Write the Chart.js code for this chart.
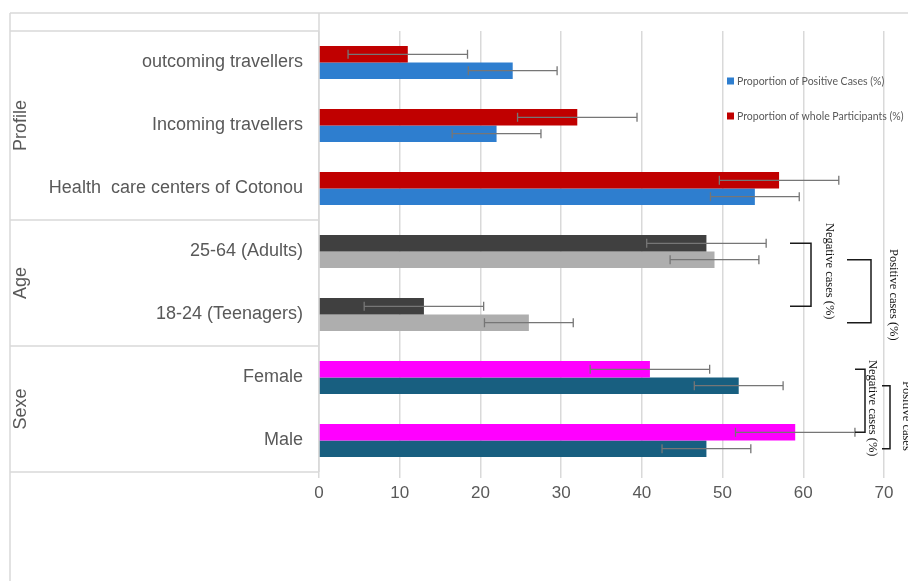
<!DOCTYPE html>
<html>
<head>
<meta charset="utf-8">
<script src="https://cdn.jsdelivr.net/npm/chart.js@4"></script>
<style>
  html, body { margin: 0; padding: 0; background: #fff; }
</style>
</head>
<body>
<canvas id="chart" width="908" height="581"></canvas>
<script>
// --- DONNÉES ---
const categories = ['outcoming travellers', 'Incoming travellers', 'Health  care centers of Cotonou',
  '25-64 (Adults)', '18-24 (Teenagers)', 'Female', 'Male'];
const groupNames = ['Profile', 'Age', 'Sexe'];
const groupSizes = [3, 2, 2];
const participants = [11, 32, 57, 48, 13, 41, 59];      // barre du haut
const participantsErr = [7.4, 7.4, 7.4, 7.4, 7.4, 7.4, 7.4];
const positives = [24, 22, 54, 49, 26, 52, 48];         // barre du bas
const positivesErr = [5.5, 5.5, 5.5, 5.5, 5.5, 5.5, 5.5];
const xTicks = [0, 10, 20, 30, 40, 50, 60, 70];

// --- STYLE ---
const topColors = { Profile: '#C00000', Age: '#404040', Sexe: '#FF00FF' };
const bottomColors = { Profile: '#2E7ECF', Age: '#AEAEAE', Sexe: '#185F80' };
const lineColor = '#D9D9D9';
const textColor = '#595959';
const sans = '"Liberation Sans", Arial, sans-serif';
const serif = '"Liberation Serif", "Times New Roman", serif';

// groupe de chaque catégorie
const groupOf = [];
groupNames.forEach((g, gi) => { for (let k = 0; k < groupSizes[gi]; k++) groupOf.push(g); });

// Tableau à gauche + cadre
const tablePlugin = {
  id: 'tablePlugin',
  beforeDraw(chart) {
    const { ctx, chartArea: area, scales: { y } } = chart;
    const left = 10, top = 13;
    ctx.save();
    ctx.strokeStyle = lineColor;
    ctx.lineWidth = 1.5;
    const line = (x0, y0, x1, y1) => { ctx.beginPath(); ctx.moveTo(x0, y0); ctx.lineTo(x1, y1); ctx.stroke(); };
    line(left, top, chart.width, top);
    line(left, top, left, chart.height);
    line(area.left, top, area.left, area.bottom);
    line(left, area.top, area.left, area.top);

    let start = 0;
    let yStart = area.top;
    groupNames.forEach((g, gi) => {
      const end = start + groupSizes[gi] - 1;
      const yEnd = end === categories.length - 1 ? area.bottom
        : (y.getPixelForValue(end) + y.getPixelForValue(end + 1)) / 2;
      line(left, yEnd, area.left, yEnd);
      // libellé du groupe
      ctx.save();
      ctx.translate(21, (yStart + yEnd) / 2);
      ctx.rotate(-Math.PI / 2);
      ctx.fillStyle = textColor;
      ctx.font = '18px ' + sans;
      ctx.textAlign = 'center';
      ctx.textBaseline = 'middle';
      ctx.fillText(g, 0, 0);
      ctx.restore();
      start = end + 1;
      yStart = yEnd;
    });
    ctx.restore();
  }
};

// Barres d'erreur
const errorBars = {
  id: 'errorBars',
  afterDatasetsDraw(chart) {
    const { ctx, scales: { x } } = chart;
    ctx.save();
    ctx.strokeStyle = '#767676';
    ctx.lineWidth = 1.3;
    [participantsErr, positivesErr].forEach((errs, di) => {
      const values = chart.data.datasets[di].data;
      chart.getDatasetMeta(di).data.forEach((bar, i) => {
        const x0 = x.getPixelForValue(values[i] - errs[i]);
        const x1 = x.getPixelForValue(values[i] + errs[i]);
        const yc = bar.y;
        ctx.beginPath();
        ctx.moveTo(x0, yc); ctx.lineTo(x1, yc);
        ctx.moveTo(x0, yc - 4.5); ctx.lineTo(x0, yc + 4.5);
        ctx.moveTo(x1, yc - 4.5); ctx.lineTo(x1, yc + 4.5);
        ctx.stroke();
      });
    });
    ctx.restore();
  }
};

// Légende + accolades annotées
const annotations = {
  id: 'annotations',
  afterDraw(chart) {
    const { ctx } = chart;
    ctx.save();
    // légende
    const items = [
      { label: chart.data.datasets[1].label, color: bottomColors.Profile, y: 81 },
      { label: chart.data.datasets[0].label, color: topColors.Profile, y: 116 }
    ];
    ctx.font = '10.5px Lato, sans-serif';
    ctx.textBaseline = 'middle';
    items.forEach(it => {
      ctx.fillStyle = it.color;
      ctx.fillRect(727, it.y - 3.5, 7, 7);
      ctx.fillStyle = textColor;
      ctx.fillText(it.label, 737, it.y + 0.5);
    });

    // accolades reliant les barres
    const top = chart.getDatasetMeta(0).data;
    const bot = chart.getDatasetMeta(1).data;
    const brackets = [
      { y0: top[3].y, y1: top[4].y, x: 811, len: 21, tx: 829, text: 'Negative cases (%)', ty: 223 },
      { y0: bot[3].y, y1: bot[4].y, x: 871, len: 24, tx: 893, text: 'Positive cases (%)', ty: 249 },
      { y0: top[5].y, y1: top[6].y, x: 865, len: 10, tx: 872, text: 'Negative cases (%)', ty: 360 },
      { y0: bot[5].y, y1: bot[6].y, x: 890, len: 8, tx: 906, text: 'Positive cases', ty: 381 }
    ];
    ctx.strokeStyle = '#1a1a1a';
    ctx.lineWidth = 1.5;
    brackets.forEach(b => {
      ctx.beginPath();
      ctx.moveTo(b.x - b.len, b.y0); ctx.lineTo(b.x, b.y0);
      ctx.lineTo(b.x, b.y1); ctx.lineTo(b.x - b.len, b.y1);
      ctx.stroke();
      ctx.save();
      ctx.translate(b.tx, b.ty);
      ctx.rotate(Math.PI / 2);
      ctx.fillStyle = '#111';
      ctx.font = '12.5px ' + serif;
      ctx.textAlign = 'left';
      ctx.textBaseline = 'middle';
      ctx.fillText(b.text, 0, 0);
      ctx.restore();
    });
    ctx.restore();
  }
};

const ctx = document.getElementById('chart').getContext('2d');
new Chart(ctx, {
  type: 'bar',
  data: {
    labels: categories,
    datasets: [
      {
        label: 'Proportion of whole Participants (%)',
        data: participants,
        backgroundColor: groupOf.map(g => topColors[g]),
        categoryPercentage: 0.52,
        barPercentage: 1.0
      },
      {
        label: 'Proportion of Positive Cases (%)',
        data: positives,
        backgroundColor: groupOf.map(g => bottomColors[g]),
        categoryPercentage: 0.52,
        barPercentage: 1.0
      }
    ]
  },
  options: {
    responsive: false,
    animation: false,
    indexAxis: 'y',
    layout: { padding: { left: 10, top: 31, right: 24, bottom: 0 } },
    plugins: { legend: { display: false }, tooltip: { enabled: false } },
    scales: {
      x: {
        min: xTicks[0],
        max: xTicks[xTicks.length - 1],
        afterBuildTicks: s => { s.ticks = xTicks.map(v => ({ value: v })); },
        ticks: { color: textColor, font: { family: sans, size: 17 }, padding: 5 },
        grid: { color: lineColor, lineWidth: 1.5, tickLength: 6 },
        border: { display: false },
        afterFit: s => { s.height = 109; }
      },
      y: {
        ticks: { color: textColor, font: { family: sans, size: 18 }, padding: 16 },
        grid: { display: false, drawTicks: false },
        border: { display: false },
        afterFit: s => { s.width = 309; }
      }
    }
  },
  plugins: [tablePlugin, errorBars, annotations]
});
</script>
</body>
</html>
